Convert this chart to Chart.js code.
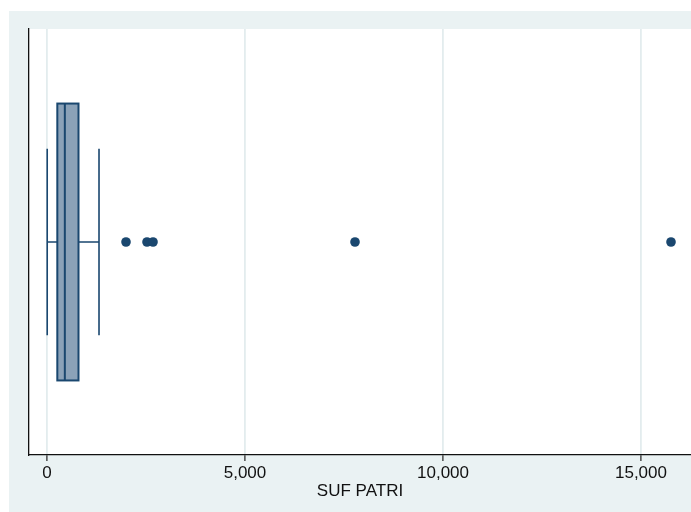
<!DOCTYPE html>
<html>
<head>
<meta charset="utf-8">
<script src="https://cdn.jsdelivr.net/npm/chart.js@4/dist/chart.umd.min.js"></script>
<style>
  html, body { margin: 0; padding: 0; background: #ffffff; }
  #wrap { width: 691px; height: 512px; }
</style>
</head>
<body>
<div id="wrap"><canvas id="c" width="691" height="512"></canvas></div>
<script>
// ---- data ----
const variableName = 'SUF PATRI';
const whiskerLow  = [5];
const quartile1   = [260];
const medianVals  = [450];
const quartile3   = [795];
const whiskerHigh = [1313];
const outliers    = [1995, 2525, 2677, 7778, 15758];
const tickValues  = [0, 5000, 10000, 15000];

// ---- styles ----
const navy = '#1a476f';
const boxFill = '#8ba2b8';
const outerBg = '#eaf2f3';

const bgPlugin = {
  id: 'bg',
  beforeDraw(chart) {
    const {ctx, chartArea: a, width, height} = chart;
    ctx.save();
    ctx.fillStyle = '#ffffff';
    ctx.fillRect(0, 0, width, height);
    ctx.fillStyle = outerBg;
    ctx.fillRect(9, 11, width - 9, height - 11);
    ctx.fillStyle = '#ffffff';
    ctx.fillRect(a.left, a.top, a.right - a.left, a.bottom - a.top);
    ctx.restore();
  }
};

const boxPlugin = {
  id: 'boxplot',
  beforeDatasetsDraw(chart, args, opts) {
    const {ctx} = chart;
    const xs = chart.scales.x, ys = chart.scales.y;
    for (let i = 0; i < quartile1.length; i++) {
      const yc = ys.getPixelForValue(opts.center);
      const yTop = ys.getPixelForValue(opts.center + opts.boxHalf);
      const yBot = ys.getPixelForValue(opts.center - opts.boxHalf);
      const cTop = ys.getPixelForValue(opts.center + opts.capHalf);
      const cBot = ys.getPixelForValue(opts.center - opts.capHalf);
      const xLo = xs.getPixelForValue(whiskerLow[i]);
      const xQ1 = xs.getPixelForValue(quartile1[i]);
      const xMd = xs.getPixelForValue(medianVals[i]);
      const xQ3 = xs.getPixelForValue(quartile3[i]);
      const xHi = xs.getPixelForValue(whiskerHigh[i]);
      ctx.save();
      ctx.strokeStyle = navy;
      // whiskers
      ctx.lineWidth = 1.6;
      ctx.beginPath();
      ctx.moveTo(xLo, yc); ctx.lineTo(xQ1, yc);
      ctx.moveTo(xQ3, yc); ctx.lineTo(xHi, yc);
      ctx.moveTo(xLo, cTop); ctx.lineTo(xLo, cBot);
      ctx.moveTo(xHi, cTop); ctx.lineTo(xHi, cBot);
      ctx.stroke();
      // box
      ctx.fillStyle = boxFill;
      ctx.fillRect(xQ1, yTop, xQ3 - xQ1, yBot - yTop);
      ctx.lineWidth = 2;
      ctx.strokeRect(xQ1, yTop, xQ3 - xQ1, yBot - yTop);
      // median
      ctx.beginPath();
      ctx.moveTo(xMd, yTop); ctx.lineTo(xMd, yBot);
      ctx.stroke();
      ctx.restore();
    }
  }
};

const fontFamily = '"Liberation Sans", Arial, sans-serif';

new Chart(document.getElementById('c'), {
  type: 'scatter',
  data: {
    datasets: [{
      label: variableName,
      data: outliers.map(v => ({x: v, y: 0.5})),
      backgroundColor: navy,
      borderColor: navy,
      borderWidth: 0,
      pointRadius: 4.8,
      pointHoverRadius: 4.8
    }]
  },
  options: {
    responsive: false,
    animation: false,
    events: [],
    layout: { autoPadding: false, padding: { left: 29, top: 29, right: 0, bottom: 0 } },
    plugins: {
      legend: { display: false },
      tooltip: { enabled: false },
      boxplot: { center: 0.5, boxHalf: 0.325, capHalf: 0.219 }
    },
    scales: {
      x: {
        type: 'linear',
        min: -455,
        max: 16263,
        afterBuildTicks: s => { s.ticks = tickValues.map(v => ({ value: v })); },
        afterFit: s => { s.height = 57; s.paddingLeft = 0; s.paddingRight = 0; },
        grid: {
          display: true,
          color: '#e3ecee',
          lineWidth: 1.8,
          drawOnChartArea: true,
          drawTicks: true,
          tickLength: 6,
          tickColor: '#222',
          tickWidth: 1.2
        },
        border: { display: true, color: '#111', width: 1.3 },
        ticks: {
          color: '#111',
          font: { family: fontFamily, size: 17 },
          padding: 2,
          maxRotation: 0,
          callback: v => v.toLocaleString('en-US')
        },
        title: {
          display: true,
          text: variableName,
          color: '#111',
          font: { family: fontFamily, size: 17 },
          padding: { top: 0, bottom: 10 }
        }
      },
      y: {
        type: 'linear',
        min: 0,
        max: 1,
        afterFit: s => { s.width = 0; s.paddingTop = 0; s.paddingBottom = 0; },
        grid: { display: false, drawTicks: false },
        border: { display: true, color: '#111', width: 1.3 },
        ticks: { display: false }
      }
    }
  },
  plugins: [bgPlugin, boxPlugin]
});
</script>
</body>
</html>
